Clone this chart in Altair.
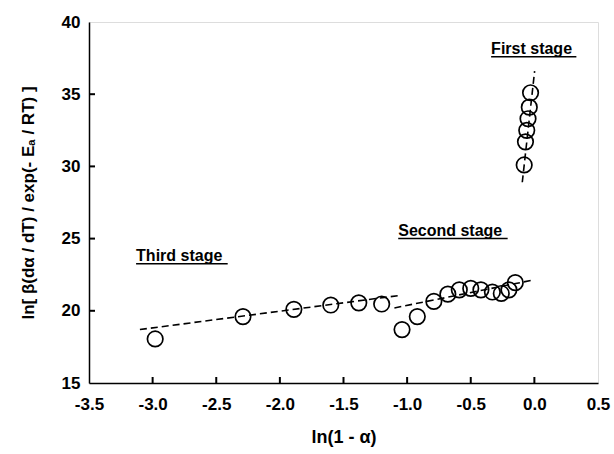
import altair as alt
import pandas as pd

# --- data ---
third_x = [-2.98, -2.29, -1.89, -1.60, -1.38, -1.20]
third_y = [18.05, 19.6, 20.1, 20.4, 20.55, 20.47]
second_x = [-1.04, -0.92, -0.79, -0.68, -0.59, -0.50, -0.42, -0.33, -0.26, -0.20, -0.15]
second_y = [18.7, 19.6, 20.65, 21.15, 21.45, 21.55, 21.45, 21.3, 21.2, 21.45, 21.95]
first_x = [-0.08, -0.07, -0.06, -0.05, -0.04, -0.03]
first_y = [30.1, 31.7, 32.5, 33.3, 34.1, 35.1]

fit_third_x = [-3.1, -1.07]
fit_third_y = [18.7, 21.05]
fit_second_x = [-1.1, 0.0]
fit_second_y = [20.2, 22.15]
fit_first_x = [-0.095, 0.002]
fit_first_y = [28.9, 36.6]

label_text = ["Third stage", "Second stage", "First stage"]
label_x = [-3.13, -1.07, -0.34]
label_x_end = [-2.41, -0.21, 0.33]
underline_y = [23.25, 25.0, 37.6]

x_ticks = [-3.5, -3.0, -2.5, -2.0, -1.5, -1.0, -0.5, 0.0, 0.5]
y_ticks = [15, 20, 25, 30, 35, 40]

W, H = 509, 361
FONT = "Liberation Sans"

pts = pd.DataFrame({
    "x": third_x + second_x + first_x,
    "y": third_y + second_y + first_y,
})
fits = pd.DataFrame({
    "x": fit_third_x + fit_second_x + fit_first_x,
    "y": fit_third_y + fit_second_y + fit_first_y,
    "g": ["third"] * 2 + ["second"] * 2 + ["first"] * 2,
})
labels = pd.DataFrame({"t": label_text, "x": label_x,
                       "x2": label_x_end, "uy": underline_y})

xs = alt.Scale(domain=[-3.5, 0.5], nice=False, zero=False)
ys = alt.Scale(domain=[15, 40], nice=False, zero=False)

x_axis = alt.Axis(values=x_ticks, title="ln(1 - α)", grid=False, ticks=False,
                  labelExpr="replace(format(datum.value, '.1f'), '−', '-')",
                  labelFont=FONT, labelFontWeight="bold", labelFontSize=17,
                  labelColor="black", labelPadding=13, labelFlush=False,
                  titleFont=FONT, titleFontWeight="bold", titleFontSize=18,
                  titleColor="black", titlePadding=16,
                  domainColor="black", domainWidth=1.5)
y_axis = alt.Axis(values=y_ticks, title="ln[ β(dα / dT) / exp(- Eₐ / RT) ]",
                  grid=False, ticks=False,
                  labelFont=FONT, labelFontWeight="bold", labelFontSize=17,
                  labelColor="black", labelPadding=9, labelFlush=False,
                  titleFont=FONT, titleFontWeight="bold", titleFontSize=17,
                  titleColor="black", titlePadding=24,
                  domainColor="black", domainWidth=1.5)

base_pts = alt.Chart(pts).mark_point(shape="circle", size=240, filled=False,
                                     stroke="black", strokeWidth=1.7, opacity=1).encode(
    x=alt.X("x:Q", scale=xs, axis=x_axis),
    y=alt.Y("y:Q", scale=ys, axis=y_axis),
)

lines = alt.Chart(fits).mark_line(color="black", strokeWidth=1.6,
                                  strokeDash=[7, 4]).encode(
    x=alt.X("x:Q", scale=xs), y=alt.Y("y:Q", scale=ys), detail="g:N")

txt = alt.Chart(labels).mark_text(align="left", baseline="alphabetic", font=FONT,
                                  fontWeight="bold", fontSize=16, color="black",
                                  dy=-3).encode(
    x=alt.X("x:Q", scale=xs), y=alt.Y("uy:Q", scale=ys), text="t:N")

under = alt.Chart(labels).mark_rule(color="black", strokeWidth=1.5).encode(
    x=alt.X("x:Q", scale=xs), x2="x2:Q", y=alt.Y("uy:Q", scale=ys))

# inward tick marks drawn from the tick lists
xt = alt.Chart(pd.DataFrame({"v": x_ticks[1:-1]})).mark_rule(
    color="black", strokeWidth=2).encode(
    x=alt.X("v:Q", scale=xs), y=alt.value(H), y2=alt.value(H - 6))
yt = alt.Chart(pd.DataFrame({"v": y_ticks[1:-1]})).mark_rule(
    color="black", strokeWidth=2).encode(
    y=alt.Y("v:Q", scale=ys), x=alt.value(0), x2=alt.value(6))

chart = alt.layer(lines, base_pts, txt, under, xt, yt).properties(
    width=W, height=H,
    autosize=alt.AutoSizeParams(type="none"),
    padding={"left": 89, "top": 22, "right": 16, "bottom": 71},
).configure_view(stroke="black", strokeWidth=1.5).configure(background="white")

chart.save("out.html", embed_options={"renderer": "svg", "actions": False})
